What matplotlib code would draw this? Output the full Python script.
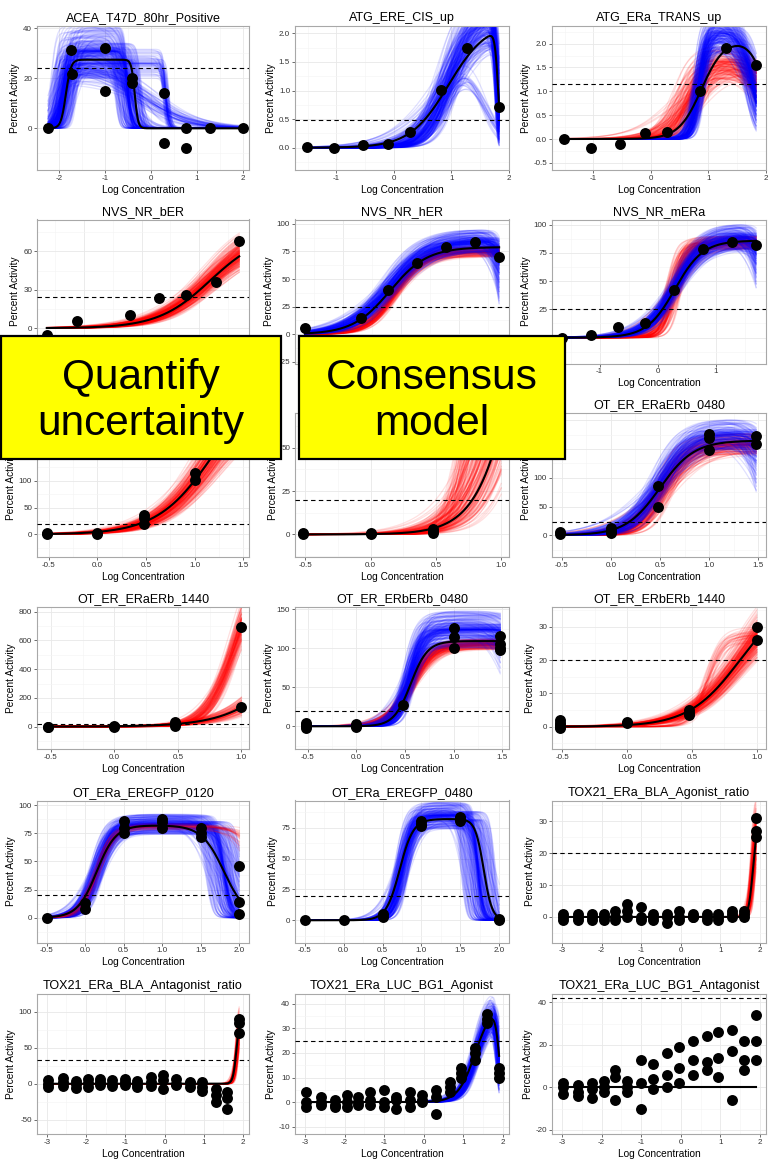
import numpy as np
import matplotlib.pyplot as plt
from matplotlib.patches import Rectangle
from matplotlib.ticker import AutoMinorLocator

plt.rcParams['font.family'] = ['Liberation Sans', 'DejaVu Sans']

titles = ['ACEA_T47D_80hr_Positive', 'ATG_ERE_CIS_up', 'ATG_ERa_TRANS_up',
          'NVS_NR_bER', 'NVS_NR_hER', 'NVS_NR_mERa',
          'OT_ER_ERaERa_0480', 'OT_ER_ERaERa_1440', 'OT_ER_ERaERb_0480',
          'OT_ER_ERaERb_1440', 'OT_ER_ERbERb_0480', 'OT_ER_ERbERb_1440',
          'OT_ERa_EREGFP_0120', 'OT_ERa_EREGFP_0480', 'TOX21_ERa_BLA_Agonist_ratio',
          'TOX21_ERa_BLA_Antagonist_ratio', 'TOX21_ERa_LUC_BG1_Agonist', 'TOX21_ERa_LUC_BG1_Antagonist']

cutoffs = [24.3, 0.49, 1.16, 24.3, 24.3, 25.6, 20, 20, 23, 15, 20, 20, 20, 20, 20, 33, 25, 42]

# concentrations (log) and responses
p01_x = [-2.24, -1.73, -1.71, -1.0, -1.0, -0.4, -0.4, 0.28, 0.28, 0.77, 0.77, 1.29, 2.0]
p01_y = [0, 31.3, 21.7, 32.2, 15.0, 20.0, 18.3, 14.2, -5.8, 0, -7.8, 0, 0]
p02_x = [-1.52, -1.04, -0.53, -0.1, 0.28, 0.82, 1.27, 1.83]
p02_y = [0.02, -0.01, 0.05, 0.065, 0.28, 1.01, 1.75, 0.72]
p03_x = [-1.52, -1.04, -0.53, -0.1, 0.28, 0.85, 1.3, 1.83]
p03_y = [0.0, -0.18, -0.1, 0.13, 0.15, 1.0, 1.91, 1.55]
p04_x = [-1.65, -1.13, -0.2, 0.3, 0.78, 1.3, 1.7]
p04_y = [-5, 6, 10, 23.5, 25.6, 36.5, 68]
p05_x = [-1.65, -0.69, -0.21, 0.29, 0.78, 1.28, 1.7]
p05_y = [6, 14.6, 39.9, 65, 79, 84, 70]
p06_x = [-1.65, -1.15, -0.69, -0.21, 0.29, 0.78, 1.28, 1.7]
p06_y = [0, 2.4, 9.4, 12.7, 42, 78.6, 84.8, 82.5]
p07_x = [-0.52, -0.52, 0.0, 0.0, 0.48, 0.48, 0.48, 1.0, 1.0, 1.48, 1.48]
p07_y = [0, 2, 0, 2, 36, 30, 20, 115, 101, 215, 200]
p08_x = [-0.52, -0.52, 0.0, 0.0, 0.48, 0.48, 0.48, 1.0, 1.0]
p08_y = [0, 1, 1, 0.5, 3, 1, 2, 66, 58]
p09_x = [-0.52, -0.52, 0, 0, 0, 0.48, 0.48, 1.0, 1.0, 1.0, 1.48, 1.48]
p09_y = [2, 5, 12, 3, 7, 86, 50, 177, 170, 149, 173, 159]
p10_x = [-0.52, -0.52, 0, 0, 0.48, 0.48, 0.48, 1.0, 1.0]
p10_y = [0, -3, 0, 2, 5, 20, 30, 694, 135]
p11_x = [-0.52, -0.52, -0.52, -0.52, 0, 0, 0, 0.48, 1.0, 1.0, 1.0, 1.48, 1.48, 1.48, 1.48]
p11_y = [0, 2, -2, 4, 0, 3, -1, 27, 126, 114, 100, 115, 105, 100, 98]
p12_x = [-0.52, -0.52, -0.52, -0.52, -0.52, 0, 0, 0.48, 0.48, 0.48, 1.0, 1.0]
p12_y = [0, 1, 2, 0.5, -0.5, 1.5, 1.0, 4, 5, 3.5, 30, 26]
p13_x = [-0.5, 0, 0, 0.5, 0.5, 0.5, 1.0, 1.0, 1.0, 1.5, 1.5, 1.5, 2.0, 2.0, 2.0]
p13_y = [0, 8, 13, 86, 80, 75, 88, 85, 80, 80, 75, 72, 46, 14, 3]
p14_x = [-0.5, 0, 0.5, 0.5, 1.0, 1.0, 1.0, 1.5, 1.5, 1.5, 2.0, 2.0]
p14_y = [0, 0, 5, 3, 80, 78, 76, 84, 82, 80, 0, 1]
tox_conc = [-2.98, -2.6, -2.25, -1.95, -1.65, -1.35, -1.0, -0.7, -0.35, -0.05, 0.3, 0.65, 0.95, 1.3, 1.6, 1.9]
p15_y = [[0, -1, 1], [-1, 0, 1], [0, 1, -1], [1, 0, -1], [0, 2, -1], [4, 2, 0], [3, 0, -1], [1, 0, -1],
         [0, 1, -2], [2, 0, -1], [1, 0, 0], [0, 1, -1], [0, -1, 1], [0, 2, 1], [2, 1, 0], [31, 27, 25]]
p16_y = [[5, 0, -5], [8, 2, -3], [0, -6, 4], [6, 1, -4], [3, -2, 7], [0, 5, -3], [6, -2, 2], [4, 0, -5],
         [10, -3, 2], [12, 5, -8], [-2, 6, 0], [3, -5, 1], [-10, 2, -4], [-15, -25, -8], [-20, -35, -12], [90, 85, 70]]
p17_y = [[0, 4, -2], [2, -1, 0], [-2, 1, -1], [0, 3, -2], [-1, 2, 0], [4, -1, 1], [0, 5, -2], [2, 1, -3],
         [1, -2, 4], [0, 3, 1], [5, 2, -5], [8, 6, 4], [14, 12, 10], [22, 20, 17], [36, 34, 32], [14, 10, 12]]
p18_y = [[2, -3, 0], [-4, 1, -2], [2, -5, -1], [3, -2, 0], [-6, 5, 8], [0, -2, 3], [13, -10, 2], [-1, 11, 4],
         [16, 6, 0], [19, 9, 2], [13, 22, 6], [12, 8, 24], [26, 5, 14], [17, 27, -6], [22, 13, 8], [34, 22, 13]]

# best (black) fits: top, gain ac50, gain slope, loss ac50, loss slope
fits = [[27.5, -1.85, 8, -0.35, 12], [2.2, 0.95, 1.3, 1.81, 15], [2.1, 0.88, 2.2, 2.0, 3],
        [75, 1.2, 0.95, None, None], [79, -0.18, 1.35, None, None], [86, 0.3, 1.8, None, None],
        [300, 1.2, 1.5, None, None], [300, 1.22, 2.6, None, None], [165, 0.5, 2.5, None, None],
        [1000, 1.45, 1.8, None, None], [109, 0.56, 5, None, None], [40, 0.87, 2.2, None, None],
        [82, 0.15, 3.5, 1.8, 3], [82, 0.72, 5, 1.8, 8], [30, 1.82, 8, None, None],
        [95, 1.83, 10, None, None], [40, 1.3, 2, 1.9, 8], [0, 0, 1, None, None]]

# bootstrap bundles: colour, n, (top), (gain ac50), (gain slope), (loss ac50), (loss slope) ranges
bundles = [
    [('blue', 200, (20, 42), (-2.2, -1.6), (2, 12), (-0.8, -0.2), (1.5, 15)),
     ('blue', 50, (20, 32), (-2.1, -1.7), (3, 10), (0.25, 0.4), (6, 20)),
     ('blue', 50, (18, 32), (-2.1, -1.8), (3, 8), (-0.5, 0.2), (0.6, 1.2))],
    [('blue', 220, (1.8, 2.8), (0.72, 1.15), (0.9, 3), (1.74, 1.86), (6, 25)),
     ('blue', 20, (1.5, 1.9), (0.8, 1.0), (1.5, 3), (1.45, 1.6), (1.5, 3))],
    [('red', 160, (1.3, 2.0), (0.35, 0.95), (1.0, 4), (1.8, 2.4), (1, 3)),
     ('blue', 200, (1.8, 2.7), (0.72, 0.95), (3, 9), (1.6, 1.95), (1.5, 6))],
    [('red', 200, (62, 92), (1.0, 1.4), (0.75, 1.15), None, None)],
    [('red', 120, (70, 80), (-0.2, 0.0), (1.3, 2.2), None, None),
     ('blue', 200, (74, 96), (-0.38, -0.02), (0.9, 1.7), (1.65, 2.0), (2, 10))],
    [('red', 140, (78, 90), (0.12, 0.42), (1.3, 6), None, None),
     ('blue', 200, (78, 102), (0.18, 0.42), (1.2, 2.3), (1.7, 2.1), (2, 8))],
    [('red', 200, (220, 380), (1.08, 1.32), (1.3, 1.8), None, None)],
    [('red', 140, (150, 400), (1.0, 1.3), (2, 3.5), None, None),
     ('red', 50, (80, 200), (0.7, 0.85), (4, 7), None, None)],
    [('red', 140, (140, 178), (0.42, 0.65), (1.5, 5), None, None),
     ('blue', 160, (150, 205), (0.38, 0.6), (1.5, 4), (1.45, 1.9), (2, 8))],
    [('red', 80, (800, 1400), (1.35, 1.55), (1.6, 2.2), None, None),
     ('red', 110, (1000, 1300), (0.9, 1.0), (3, 5), None, None)],
    [('red', 140, (98, 112), (0.5, 0.62), (2.5, 5), None, None),
     ('blue', 200, (100, 148), (0.47, 0.62), (3, 9), (1.5, 2.0), (3, 10))],
    [('red', 180, (32, 50), (0.8, 0.95), (1.8, 2.6), None, None),
     ('red', 25, (25, 30), (0.58, 0.65), (5, 9), None, None)],
    [('blue', 200, (74, 92), (0.05, 0.25), (2.5, 6), (1.55, 2.05), (2, 15)),
     ('red', 25, (78, 84), (0.1, 0.2), (3, 5), (2.1, 2.5), (2, 4))],
    [('blue', 200, (74, 96), (0.65, 0.85), (3, 9), (1.5, 1.95), (4, 20))],
    [('red', 140, (25, 40), (1.75, 1.9), (5, 12), None, None)],
    [('red', 140, (80, 120), (1.8, 1.9), (6, 14), None, None)],
    [('blue', 200, (32, 48), (1.2, 1.45), (1.5, 3), (1.8, 1.98), (5, 12))],
    [],
]

xlims = [(-2.48, 2.14), (-1.72, 2.0), (-1.72, 2.0), (-1.82, 1.87), (-1.82, 1.87), (-1.82, 1.87),
         (-0.62, 1.56), (-0.58, 1.06), (-0.6, 1.58), (-0.61, 1.06), (-0.63, 1.57), (-0.58, 1.07),
         (-0.625, 2.125), (-0.625, 2.125), (-3.25, 2.15), (-3.25, 2.15), (-3.25, 2.15), (-3.25, 2.15)]
ylims = [(-16.7, 41), (-0.39, 2.13), (-0.65, 2.37), (-27.6, 85), (-26.5, 104), (-23, 104.7),
         (-42, 226), (-13, 70), (-38, 213), (-156, 833), (-29, 152.6), (-6.7, 35.9),
         (-22, 104), (-18, 97), (-8, 36.5), (-70, 125), (-13, 44), (-22, 44)]
xticks = [[-2, -1, 0, 1, 2]] + [[-1, 0, 1, 2]] * 2 + [[-1, 0, 1]] * 3 + \
         [[-0.5, 0.0, 0.5, 1.0, 1.5]] * 6 + [[-0.5, 0.0, 0.5, 1.0, 1.5, 2.0]] * 2 + [[-3, -2, -1, 0, 1, 2]] * 4
yticks = [[0, 20, 40], [0, 0.5, 1.0, 1.5, 2.0], [-0.5, 0, 0.5, 1.0, 1.5, 2.0], [0, 30, 60],
          [-25, 0, 25, 50, 75, 100], [0, 25, 50, 75, 100], [0, 50, 100, 150, 200], [0, 25, 50],
          [0, 50, 100, 150, 200], [0, 200, 400, 600, 800], [0, 50, 100, 150], [0, 10, 20, 30],
          [0, 25, 50, 75, 100], [0, 25, 50, 75], [0, 10, 20, 30], [-50, 0, 50, 100],
          [-10, 0, 10, 20, 30, 40], [-20, 0, 20, 40]]

points = [(p01_x, p01_y), (p02_x, p02_y), (p03_x, p03_y), (p04_x, p04_y), (p05_x, p05_y),
          (p06_x, p06_y), (p07_x, p07_y), (p08_x, p08_y), (p09_x, p09_y), (p10_x, p10_y),
          (p11_x, p11_y), (p12_x, p12_y), (p13_x, p13_y), (p14_x, p14_y)]
for resp in [p15_y, p16_y, p17_y, p18_y]:
    xs = [c for c, trip in zip(tox_conc, resp) for _ in trip]
    ys = [v for trip in resp for v in trip]
    points.append((xs, ys))


def curve(x, top, ga, gw, la=None, lw=None):
    e = np.clip((ga - x) * gw, -30, 30)
    y = top / (1 + 10 ** e)
    if la is not None:
        y = y / (1 + 10 ** np.clip((x - la) * lw, -30, 30))
    return y


def spread(lo, hi, i, k):
    # fixed, evenly mixed walk through the range, denser near the middle
    d = ((i * k + 0.5) % 1.0) - 0.5
    d = np.sign(d) * (2 * abs(d)) ** 1.8 / 2
    return lo + (hi - lo) * (0.5 + d)


fig = plt.figure(figsize=(7.68, 11.59), dpi=100)
W, H = 768, 1159
col_left = [37, 295, 552]
col_w = [212, 214, 214]
row_top = [26, 219.5, 413, 607, 800.5, 994]
row_h = [144, 144, 144, 142, 142, 140]
fmt = ['%g', '%.1f', '%.1f'] + ['%g'] * 15
xfmt = ['%g'] * 6 + ['%.1f'] * 8 + ['%g'] * 4

for k in range(18):
    r, c = divmod(k, 3)
    ax = fig.add_axes([col_left[c] / W, 1 - (row_top[r] + row_h[r]) / H, col_w[c] / W, row_h[r] / H])
    px, py = points[k]
    xs = np.linspace(min(px), max(px), 300)
    for col, n, tr, gar, gwr, lar, lwr in bundles[k]:
        for i in range(n):
            t = spread(*tr, i, 0.6180339)
            g = spread(*gar, i, 0.4142136)
            s = spread(*gwr, i, 0.7320508)
            if lar is not None:
                la = spread(*lar, i, 0.2360680)
                lw = spread(*lwr, i, 0.1622777)
            else:
                la = lw = None
            ax.plot(xs, curve(xs, t, g, s, la, lw), color=col, lw=0.9, alpha=0.12, zorder=2)
    ax.plot(xs, curve(xs, *fits[k]), color='black', lw=1.5, zorder=4)
    ax.axhline(cutoffs[k], color='black', lw=0.8, ls=(0, (4, 3)), zorder=3)
    ax.scatter(px, py, s=62, color='black', zorder=5, linewidths=0)

    ax.set_xticks(xticks[k])
    ax.set_yticks(yticks[k])
    ax.set_xticklabels([xfmt[k] % v for v in xticks[k]])
    ax.set_yticklabels([fmt[k] % v for v in yticks[k]])
    ax.set_xlim(xlims[k])
    ax.set_ylim(ylims[k])
    ax.xaxis.set_minor_locator(AutoMinorLocator(2))
    ax.yaxis.set_minor_locator(AutoMinorLocator(2))
    ax.grid(which='major', color='#e8e8e8', lw=0.6, zorder=0)
    ax.grid(which='minor', color='#f4f4f4', lw=0.4, zorder=0)
    ax.set_axisbelow(True)
    ax.tick_params(which='major', length=2, width=0.5, color='#333333', labelsize=5.8,
                   labelcolor='#333333', pad=1.5)
    ax.tick_params(which='minor', length=0)
    for sp in ax.spines.values():
        sp.set_color('#a8a8a8')
        sp.set_linewidth(0.8)
    ax.set_title(titles[k], fontsize=9, pad=3.5)
    ax.set_xlabel('Log Concentration', fontsize=7.3, labelpad=2)
    ax.set_ylabel('Percent Activity', fontsize=7.3, labelpad=2)

# yellow call-out boxes
for x0, x1, label in [(1, 281, 'Quantify\nuncertainty'), (299, 565, 'Consensus\nmodel')]:
    fig.add_artist(Rectangle((x0 / W, 1 - 459 / H), (x1 - x0) / W, 123 / H,
                             transform=fig.transFigure, facecolor='#ffff00',
                             edgecolor='black', lw=1.6, zorder=10))
    fig.text((x0 + x1) / 2 / W, 1 - 401 / H, label, ha='center', va='center',
             fontsize=30.5, linespacing=1.2, zorder=11)

fig.savefig('out.png', dpi=100)
